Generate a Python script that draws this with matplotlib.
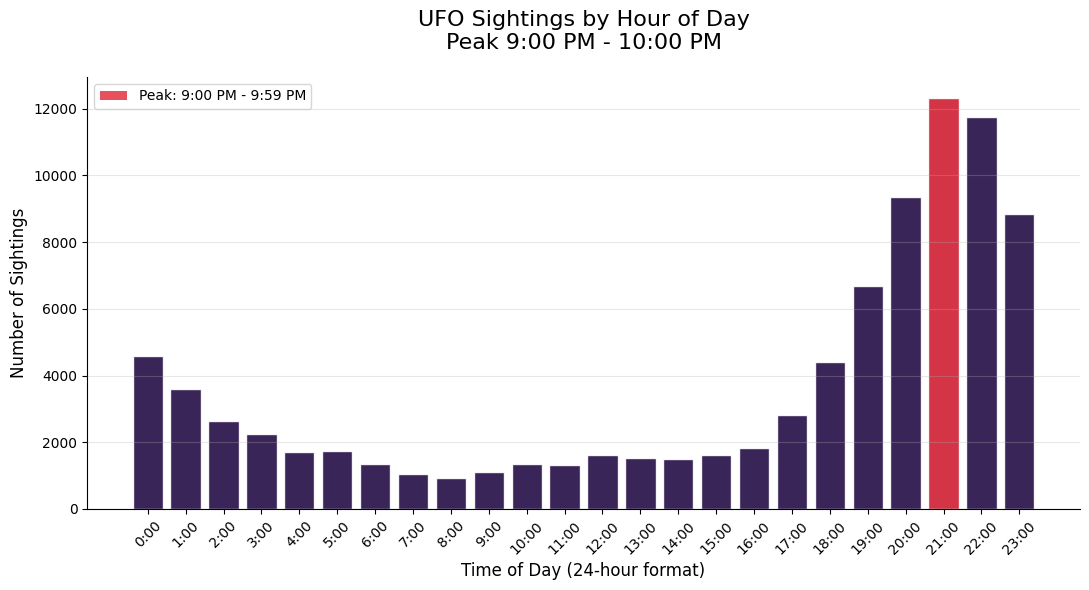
import numpy as np
import matplotlib
matplotlib.use("Agg")
from matplotlib import pyplot as plt
from matplotlib.patches import Patch

# Datos
horas = [f"{h}:00" for h in range(24)]
avistamientos = [4600, 3590, 2630, 2240, 1700, 1735, 1345, 1045, 925, 1105,
                 1345, 1315, 1615, 1525, 1495, 1615, 1825, 2810, 4400, 6670,
                 9340, 12330, 11760, 8830]
hora_pico = 21

color_base = "#240d46"
color_pico = "#cf1f32"

fig = plt.figure(figsize=(10.89, 5.9), dpi=100)
ax = fig.add_axes([0.08, 0.1373, 0.9117, 0.7322])

x = np.arange(len(horas))
colores = [color_pico if i == hora_pico else color_base for i in x]
ax.bar(x, avistamientos, width=0.8, color=colores, alpha=0.9,
       edgecolor="white", linewidth=1, zorder=2)

# Leyenda con parche del pico
ax.legend(handles=[Patch(facecolor="#e8505e", label="Peak: 9:00 PM - 9:59 PM")],
          loc="upper left")

ax.set_xticks(x)
ax.set_xticklabels(horas, rotation=45)
ax.set_xlim(-1.6, 24.6)
ax.set_ylim(0, max(avistamientos) * 1.05)

ax.yaxis.grid(True, alpha=0.3, zorder=3)
ax.set_axisbelow(False)
ax.spines["top"].set_visible(False)
ax.spines["right"].set_visible(False)

ax.set_xlabel("Time of Day (24-hour format)", fontsize=12)
ax.set_ylabel("Number of Sightings", fontsize=12)
ax.set_title("UFO Sightings by Hour of Day\nPeak 9:00 PM - 10:00 PM", fontsize=16, pad=20)

plt.savefig("out.png")
